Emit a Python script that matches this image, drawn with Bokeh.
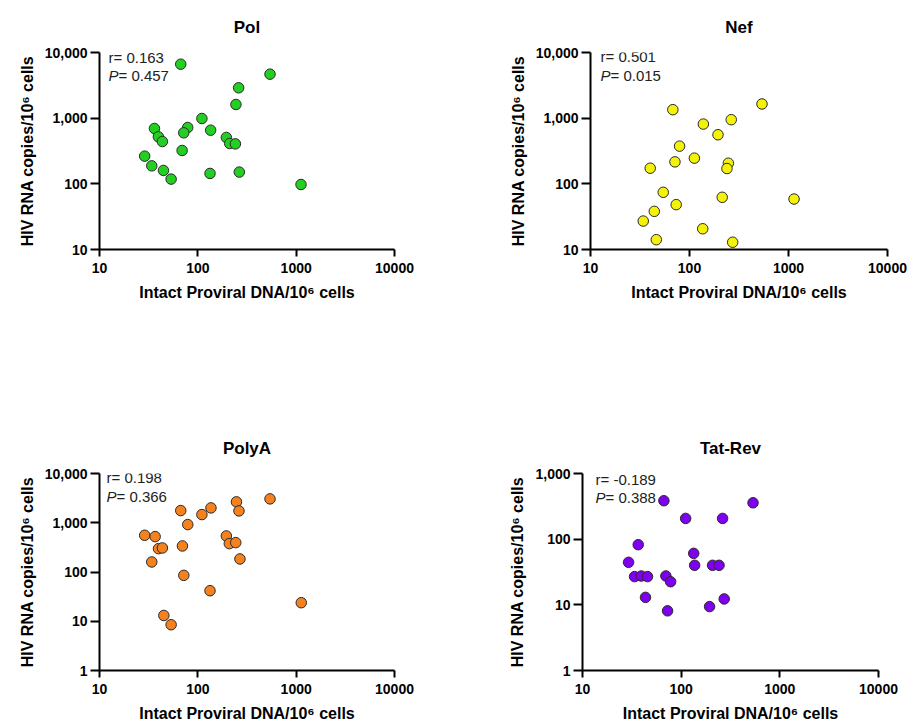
from bokeh.plotting import figure
from bokeh.models import Label, FixedTicker, NumeralTickFormatter, Range1d
from bokeh.layouts import column, row
from bokeh.embed import file_html
from bokeh.resources import INLINE

# ---- data ----
pol_x = [67, 542, 260, 244, 110, 36.2, 78.9, 71.9, 135, 39.7, 43.6, 195, 211, 241, 69.2, 28.8, 34.0, 44.7, 53.5, 133, 264, 1120]
pol_y = [6640, 4680, 2900, 1615, 988, 697, 721, 598, 656, 520, 441, 508, 411, 406, 322, 264, 188, 160, 118, 144, 151, 97.7]

nef_x = [67.9, 540, 264, 138, 194, 79.4, 112, 71.3, 40.1, 247, 239, 54.3, 73.4, 214, 1138, 44.1, 34.1, 136, 46.2, 273]
nef_y = [1346, 1644, 948, 813, 559, 375, 246, 216, 173, 206, 171, 74.3, 48.2, 62.4, 58.7, 38.1, 27.1, 20.7, 14.1, 12.9]

polya_x = [67, 110, 136, 247, 262, 542, 79, 28.8, 36.8, 195, 209, 243, 69.7, 39.8, 43.6, 34, 268, 72, 133, 1127, 45.1, 53.5]
polya_y = [1767, 1466, 2003, 2655, 1740, 3053, 918, 557, 523, 540, 377, 395, 338, 298, 308, 160, 184, 85.5, 41.7, 23.8, 13.1, 8.5]

tatrev_x = [66.8, 535, 111, 263, 36.7, 134, 29.3, 137, 208, 242, 33.7, 39.4, 45.6, 70, 78.2, 43.5, 273, 194, 72.8]
tatrev_y = [385, 358, 207, 207, 82.4, 60.8, 44.4, 40, 40, 40, 26.9, 27.5, 26.9, 27.5, 22.5, 13, 12.3, 9.4, 8.1]

titles = ["Pol", "Nef", "PolyA", "Tat-Rev"]
r_texts = ["r= 0.163", "r= 0.501", "r= 0.198", "r= -0.189"]
p_texts = ["= 0.457", "= 0.015", "= 0.366", "= 0.388"]
x_ticks = [10, 100, 1000, 10000]
y_ticks_a = [10, 100, 1000, 10000]
y_ticks_b = [1, 10, 100, 1000, 10000]
y_ticks_c = [1, 10, 100, 1000]

FONT = "Liberation Sans"
X_LABEL = "Intact Proviral DNA/10\u2076 cells"
Y_LABEL = "HIV RNA copies/10\u2076 cells"


def make_panel(title, xs, ys, color, yticks, r_txt, p_txt, w, h, borders, txt_off):
    left, right, top, bottom = borders
    p = figure(width=w, height=h, x_axis_type="log", y_axis_type="log",
               x_range=Range1d(x_ticks[0], x_ticks[-1]),
               y_range=Range1d(yticks[0], yticks[-1]),
               output_backend="svg", toolbar_location=None,
               min_border_left=left, min_border_right=right,
               min_border_top=top, min_border_bottom=bottom)
    p.title.text = title
    p.title.align = "center"
    p.title.text_font = FONT
    p.title.text_font_size = "17px"
    p.title.text_font_style = "bold"
    p.title.text_color = "black"
    p.title.standoff = 31
    p.outline_line_color = None
    p.grid.visible = False

    for ax in (p.xaxis[0], p.yaxis[0]):
        ax.axis_line_width = 2
        ax.axis_line_color = "black"
        ax.major_tick_line_width = 2
        ax.major_tick_line_color = "black"
        ax.major_tick_in = 0
        ax.minor_tick_line_color = None
        ax.major_label_text_font = FONT
        ax.major_label_text_font_size = "14px"
        ax.major_label_text_font_style = "bold"
        ax.major_label_text_color = "black"
        ax.axis_label_text_font = FONT
        ax.axis_label_text_font_size = "16px"
        ax.axis_label_text_font_style = "bold"
        ax.axis_label_text_color = "black"

    p.xaxis.major_tick_out = 7
    p.yaxis.major_tick_out = 9
    p.xaxis.ticker = FixedTicker(ticks=x_ticks, minor_ticks=[])
    p.yaxis.ticker = FixedTicker(ticks=yticks, minor_ticks=[])
    p.xaxis.formatter = NumeralTickFormatter(format="0")
    p.yaxis.formatter = NumeralTickFormatter(format="0,0")
    p.xaxis.axis_label = X_LABEL
    p.yaxis.axis_label = Y_LABEL
    p.xaxis.major_label_standoff = 6
    p.yaxis.major_label_standoff = 3
    p.xaxis.axis_label_standoff = 8
    p.yaxis.axis_label_standoff = 6

    p.scatter(xs, ys, size=10.5, fill_color=color, line_color="#2a2a2a", line_width=1)

    dx, dy1, dy2 = txt_off
    common = dict(x=x_ticks[0], y=yticks[-1], text_font=FONT, text_font_size="15px",
                  text_color="#222222", text_baseline="middle")
    p.add_layout(Label(text=r_txt, x_offset=dx, y_offset=dy1, **common))
    p.add_layout(Label(text="P", x_offset=dx, y_offset=dy2, text_font_style="italic", **common))
    p.add_layout(Label(text=p_txt, x_offset=dx + 10, y_offset=dy2, **common))
    return p


p1 = make_panel(titles[0], pol_x, pol_y, "#22cf22", y_ticks_a, r_texts[0], p_texts[0],
                456, 363, (99, 62, 52, 114), (9, -5, -23))
p2 = make_panel(titles[1], nef_x, nef_y, "#f5f20a", y_ticks_a, r_texts[1], p_texts[1],
                456, 363, (134, 25, 52, 114), (10, -4, -23))
p3 = make_panel(titles[2], polya_x, polya_y, "#f5821f", y_ticks_b, r_texts[2], p_texts[2],
                456, 363, (99, 62, 110, 56), (7, -4, -23))
p4 = make_panel(titles[3], tatrev_x, tatrev_y, "#7f00ee", y_ticks_c, r_texts[3], p_texts[3],
                456, 363, (126, 34, 110, 56), (13, -6, -24))

layout = column(row(p1, p2), row(p3, p4))
open("out.html", "w").write(file_html(layout, INLINE))
